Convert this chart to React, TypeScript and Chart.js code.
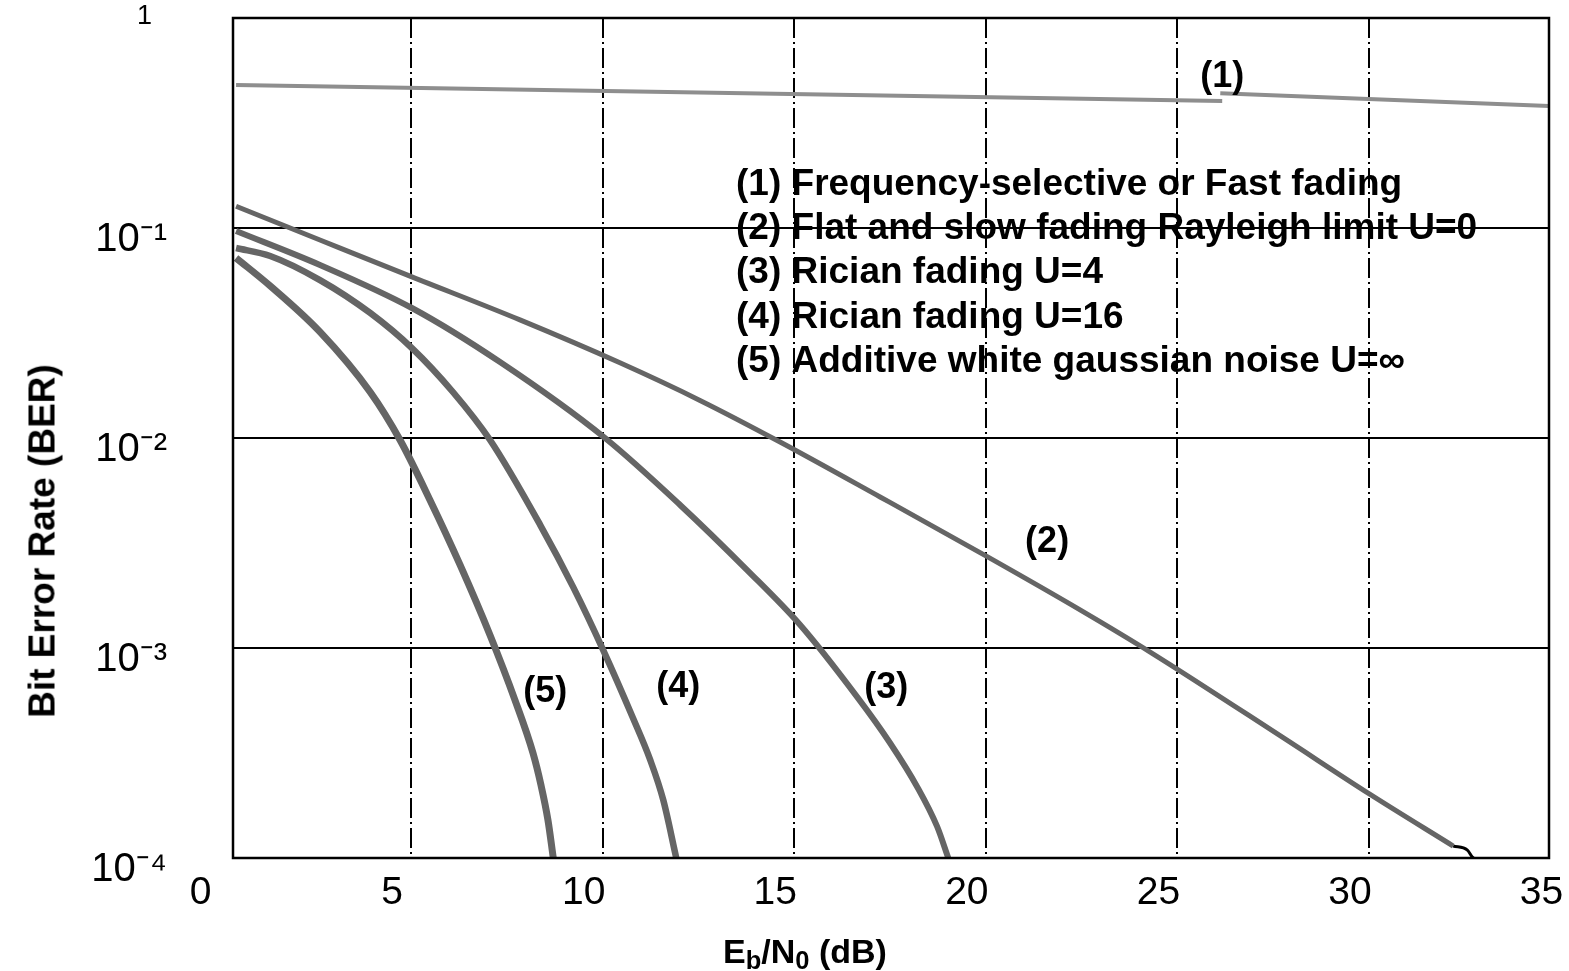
import React, { useEffect, useRef } from 'react';
import { Chart, registerables } from 'chart.js';

Chart.register(...registerables);

// ---------- data ----------
const xTicks = [0, 5, 10, 15, 20, 25, 30, 35];
const yTicks = [1e-4, 1e-3, 1e-2, 1e-1, 1];
const yTickLabels = ['10⁻⁴', '10⁻³', '10⁻²', '10⁻¹', '1'];

// (1) Frequency-selective or fast fading (two slightly offset pieces)
const curve1aX = [0.43, 26.17];
const curve1aY = [0.48, 0.402];
const curve1bX = [26.12, 34.7];
const curve1bY = [0.438, 0.381];

// (2) Flat and slow fading, Rayleigh limit
const curve2X = [0.43, 2.62, 5.02, 7.84, 10.45, 12.54, 14.63, 17.24, 20.06, 22.46, 24.29, 27.77, 30.01, 32.2];
const curve2Y = [0.127, 0.0877, 0.0585, 0.0365, 0.0228, 0.0151, 0.00957, 0.00524, 0.00271, 0.00152, 0.000957, 0.000373, 0.000202, 0.000114];
// small black hook at the end of curve (2)
const hookX = [32.2, 32.57, 32.7, 32.86];
const hookY = [0.000114, 0.000109, 0.000101, 0.0000968];

// (3) Rician fading U=4
const curve3X = [0.43, 2.62, 5.02, 7.32, 10.06, 12.02, 13.77, 15.15, 16.64, 17.5, 18.21, 18.73, 19.02];
const curve3Y = [0.0968, 0.0667, 0.0416, 0.023, 0.01, 0.0048, 0.00235, 0.00129, 0.000585, 0.000353, 0.000218, 0.000141, 0.0001];

// (4) Rician fading U=16
const curve4X = [0.43, 1.32, 2.62, 3.93, 5.02, 6.09, 7.06, 8.37, 9.23, 10.01, 10.79, 11.24, 11.58, 11.92];
const curve4Y = [0.0803, 0.0736, 0.0565, 0.0394, 0.0268, 0.01656, 0.00978, 0.00385, 0.00195, 0.00098, 0.000464, 0.000293, 0.000189, 0.0001];

// (5) Additive white gaussian noise
const curve5X = [0.43, 1.32, 2.62, 3.93, 4.71, 5.49, 6.28, 7.06, 7.71, 8.18, 8.39, 8.57, 8.71];
const curve5Y = [0.072, 0.053, 0.032, 0.01656, 0.00978, 0.00507, 0.00248, 0.00115, 0.000565, 0.000316, 0.000222, 0.000152, 0.0001];

const legendLines = [
  '(1) Frequency-selective or Fast fading',
  '(2) Flat and slow fading Rayleigh limit U=0',
  '(3) Rician fading U=4',
  '(4) Rician fading U=16',
  '(5) Additive white gaussian noise U=∞',
];
const legendX = 13.48;
const legendY = [0.16, 0.0989, 0.061, 0.0373, 0.023];

const curveLabels = ['(1)', '(2)', '(3)', '(4)', '(5)'];
const curveLabelX = [26.17, 21.6, 17.4, 11.97, 8.5];
const curveLabelY = [0.524, 0.0032, 0.000645, 0.000652, 0.000617];

// ---------- helpers ----------
const FONT = '"Liberation Sans", Arial, Helvetica, sans-serif';
const pts = (xs: number[], ys: number[]) => xs.map((x, i) => ({ x, y: ys[i] }));

const line = (xs: number[], ys: number[], color: string, width: number, smooth = true) => ({
  data: pts(xs, ys),
  borderColor: color,
  borderWidth: width,
  pointRadius: 0,
  fill: false,
  cubicInterpolationMode: smooth ? 'monotone' : 'default',
  tension: smooth ? 0.4 : 0,
});

const annotPlugin = {
  id: 'annotText',
  afterDatasetsDraw(chart: any) {
    const { ctx, scales } = chart;
    const x = scales.x;
    const y = scales.y;
    ctx.save();
    ctx.fillStyle = '#000';
    ctx.textBaseline = 'middle';
    ctx.textAlign = 'left';
    ctx.font = `bold 37px ${FONT}`;
    legendLines.forEach((t, i) => {
      ctx.fillText(t, x.getPixelForValue(legendX), y.getPixelForValue(legendY[i]));
    });
    ctx.font = `bold 36px ${FONT}`;
    ctx.textAlign = 'center';
    curveLabels.forEach((t, i) => {
      ctx.fillText(t, x.getPixelForValue(curveLabelX[i]), y.getPixelForValue(curveLabelY[i]));
    });
    ctx.restore();
  },
};

const framePlugin = {
  id: 'frame',
  afterDatasetsDraw(chart: any) {
    const { ctx, chartArea } = chart;
    const { left, top, right, bottom } = chartArea;
    ctx.save();
    ctx.strokeStyle = '#000';
    ctx.lineWidth = 2.5;
    ctx.strokeRect(left, top, right - left, bottom - top);
    ctx.restore();
  },
};

export default function App() {
  const ref = useRef<HTMLCanvasElement>(null);

  useEffect(() => {
    const gray = '#656565';
    const chart = new Chart(ref.current as HTMLCanvasElement, {
      type: 'line',
      data: {
        datasets: [
          line(curve1aX, curve1aY, '#8e8e8e', 4, false),
          line(curve1bX, curve1bY, '#8e8e8e', 4, false),
          line(curve2X, curve2Y, gray, 5),
          line(hookX, hookY, '#000', 3),
          line(curve3X, curve3Y, gray, 6),
          line(curve4X, curve4Y, gray, 6.5),
          line(curve5X, curve5Y, gray, 7),
        ] as any,
      },
      options: {
        animation: false,
        responsive: false,
        maintainAspectRatio: false,
        layout: { padding: { top: 18, right: 20, left: 0, bottom: 0 } },
        plugins: { legend: { display: false }, tooltip: { enabled: false } },
        scales: {
          x: {
            type: 'linear',
            min: 0.35,
            max: 34.7,
            afterBuildTicks: (s: any) => {
              s.ticks = xTicks.map((v) => ({ value: v }));
            },
            afterFit: (s: any) => {
              s.height = 113;
              s.paddingLeft = 0;
              s.paddingRight = 0;
            },
            ticks: {
              autoSkip: false,
              maxRotation: 0,
              padding: 12,
              labelOffset: -19,
              color: '#000',
              font: { family: FONT, size: 39 },
              callback: (v: any) => String(v),
            },
            grid: {
              color: (c: any) => (c.tick && c.tick.value >= 5 && c.tick.value <= 30 ? '#000' : 'rgba(0,0,0,0)'),
              lineWidth: 2,
              drawTicks: false,
            },
            border: { display: false, dash: [20, 4, 2, 4] },
          },
          y: {
            type: 'logarithmic',
            min: 1e-4,
            max: 1,
            afterBuildTicks: (s: any) => {
              s.ticks = yTicks.map((v) => ({ value: v }));
            },
            afterFit: (s: any) => {
              s.width = 233;
              s.paddingTop = 0;
              s.paddingBottom = 0;
            },
            ticks: {
              autoSkip: false,
              padding: 66,
              labelOffset: 12,
              color: '#000',
              font: (c: any) =>
                c.tick && c.tick.value === 1
                  ? { family: FONT, size: 27, lineHeight: 1 }
                  : { family: FONT, size: 40 },
              callback: (v: any) => {
                const i = yTicks.indexOf(Number(v));
                const lab = yTickLabels[i];
                return Number(v) === 1 ? [lab + '  ', ''] : lab;
              },
            },
            grid: {
              color: (c: any) =>
                c.tick && c.tick.value < 0.5 && c.tick.value > 2e-4 ? '#000' : 'rgba(0,0,0,0)',
              lineWidth: 2,
              drawTicks: false,
            },
            border: { display: false },
          },
        } as any,
      },
      plugins: [annotPlugin, framePlugin],
    } as any);
    return () => chart.destroy();
  }, []);

  return (
    <div
      style={{
        position: 'fixed',
        left: 0,
        top: 0,
        width: 1569,
        height: 971,
        background: '#fff',
        overflow: 'hidden',
      }}
    >
      <canvas ref={ref} width={1569} height={971} style={{ position: 'absolute', left: 0, top: 0, width: 1569, height: 971 }} />
      <div
        style={{
          position: 'absolute',
          left: 42,
          top: 541,
          transform: 'translate(-50%, -50%) rotate(-90deg)',
          font: `bold 37px ${FONT}`,
          lineHeight: '37px',
          whiteSpace: 'nowrap',
          color: '#000',
        }}
      >
        Bit Error Rate (BER)
      </div>
      <div
        style={{
          position: 'absolute',
          left: 805,
          top: 934,
          transform: 'translateX(-50%)',
          font: `bold 34px ${FONT}`,
          lineHeight: '34px',
          whiteSpace: 'nowrap',
          color: '#000',
        }}
      >
        E<span style={{ fontSize: '0.75em', position: 'relative', top: '0.25em' }}>b</span>/N
        <span style={{ fontSize: '0.75em', position: 'relative', top: '0.25em' }}>0</span> (dB)
      </div>
    </div>
  );
}
